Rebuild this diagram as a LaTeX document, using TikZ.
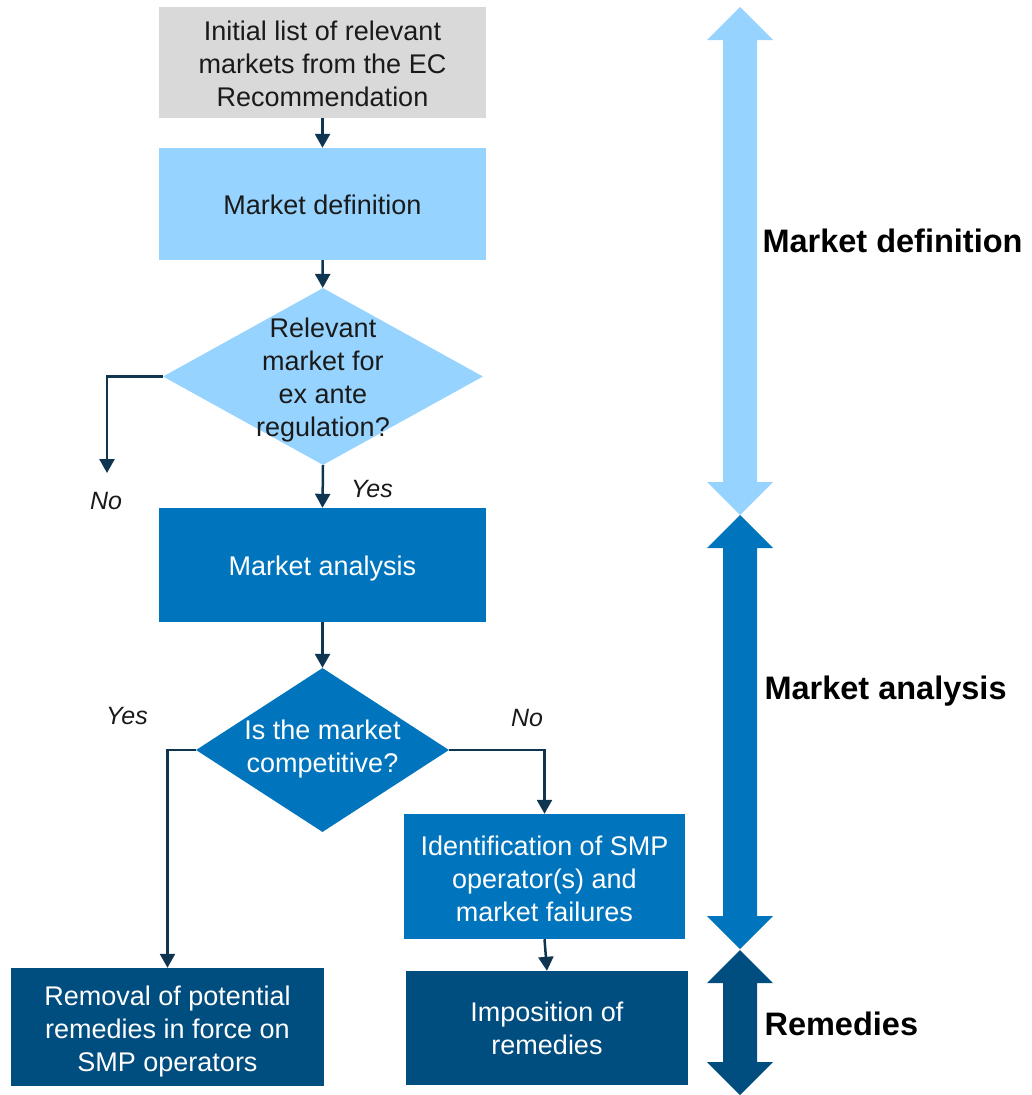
\documentclass[tikz,border=0pt]{standalone}
\usepackage{fontspec}
\setmainfont{Liberation Sans}
\usetikzlibrary{shapes.geometric,arrows.meta}
\definecolor{cgray}{HTML}{D9D9D9}
\definecolor{clight}{HTML}{96D4FF}
\definecolor{cmid}{HTML}{0075BE}
\definecolor{cdark}{HTML}{004D7F}
\definecolor{cline}{HTML}{0F3550}
\definecolor{ctext}{HTML}{1A1A1A}
\newcommand\bxfont{\fontsize{27}{33}\selectfont}
\newcommand\ynfont{\fontsize{25}{30}\selectfont\itshape}
\newcommand\sidefont{\fontsize{32.5}{38}\selectfont\bfseries}
\newcommand\vdarrow[3]{%
  \fill[#1] (740,#2) -- (773,{#2+33}) -- (757,{#2+33}) -- (757,{#3-33}) -- (773,{#3-33})
    -- (740,#3) -- (707,{#3-33}) -- (723,{#3-33}) -- (723,{#2+33}) -- (707,{#2+33}) -- cycle;}
\begin{document}
\begin{tikzpicture}[x=1pt,y=-1pt,
  box/.style={rectangle, inner sep=0pt},
  dia/.style={diamond, inner sep=0pt},
  txt/.style={font=\bxfont, align=center, inner sep=0pt},
  conn/.style={draw=cline, line width=2.5pt, -{Triangle[width=15pt,length=14pt]}},
  yn/.style={font=\ynfont, text=ctext},
  side/.style={font=\sidefont, text=black, anchor=west}]
\useasboundingbox (0,0) rectangle (1031,1095);

% right-hand phase arrows
\vdarrow{clight}{7}{515}
\vdarrow{cmid}{515}{949}
\vdarrow{cdark}{950}{1095}
\node[side] (sdef) at (759,241) {Market definition};
\node[side] (sana) at (761,691) {Market analysis};
\node[side] (srem) at (761,1024) {Remedies};

% flowchart
\node[box, fill=cgray, minimum width=327pt, minimum height=111pt,
  label={[txt, text=ctext, yshift=-1pt]center:Initial list of relevant\\markets from the EC\\Recommendation}] (init) at (322.5,62.5) {};
\node[box, fill=clight, minimum width=327pt, minimum height=112pt,
  label={[txt, text=ctext, yshift=-1pt]center:Market definition}] (mdef) at (322.5,204) {};
\node[dia, fill=clight, minimum width=320pt, minimum height=177pt,
  label={[txt, text=ctext, yshift=-4pt]center:Relevant\\market for\\ex ante\\regulation?}] (q1) at (323,376.5) {};
\node[box, fill=cmid, minimum width=327pt, minimum height=114pt,
  label={[txt, text=white, yshift=-4pt]center:Market analysis}] (ma) at (322.5,565) {};
\node[dia, fill=cmid, minimum width=253pt, minimum height=164pt,
  label={[txt, text=white, yshift=1pt]center:Is the market\\competitive?}] (q2) at (322.5,750) {};
\node[box, fill=cmid, minimum width=281pt, minimum height=125pt,
  label={[txt, text=white, yshift=-2pt]center:Identification of SMP\\operator(s) and\\market failures}] (ident) at (544.5,876.5) {};
\node[box, fill=cdark, minimum width=313pt, minimum height=118pt,
  label={[txt, text=white, yshift=-5pt]center:Removal of potential\\remedies in force on\\SMP operators}] (rem) at (167.5,1027) {};
\node[box, fill=cdark, minimum width=282pt, minimum height=114pt,
  label={[txt, text=white]center:Imposition of\\remedies}] (impo) at (547,1028) {};

\coordinate (noend) at (107,473);

\draw[conn] (init) -- (mdef);
\draw[conn] (mdef) -- (q1);
\draw[conn] (q1.west) -| (noend);
\draw[conn] (q1.south) -- (ma.north);
\draw[conn] (ma.south) -- (q2.north);
\draw[conn] (q2.west) -| (rem.north);
\draw[conn] (q2.east) -| (ident.north);
\draw[conn] (ident.south) -- (impo.north);

\node[yn] (lno1) at (106,501) {No};
\node[yn] (lyes1) at (372,489) {Yes};
\node[yn] (lyes2) at (127,716) {Yes};
\node[yn] (lno2) at (527,718) {No};
\end{tikzpicture}
\end{document}
